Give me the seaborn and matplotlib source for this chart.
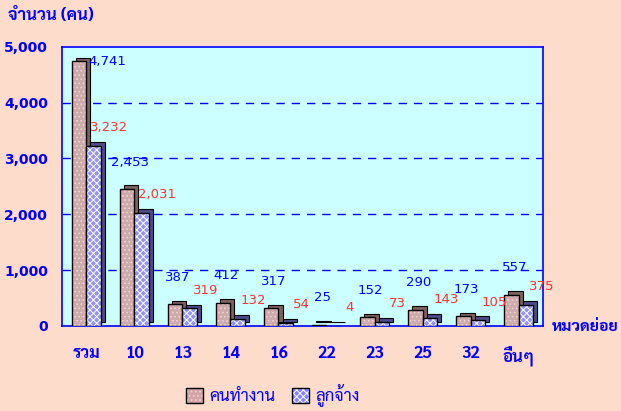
import matplotlib
matplotlib.use('Agg')
import matplotlib.pyplot as plt
import matplotlib.patheffects as pe
from matplotlib import font_manager
from matplotlib.colors import to_rgba
from matplotlib.patches import Patch
from matplotlib.ticker import FuncFormatter, FixedLocator
import seaborn as sns
import pandas as pd

categories = ['รวม', '10', '13', '14', '16', '22', '23', '25', '32', 'อื่นๆ']
workers = [4741, 2453, 387, 412, 317, 25, 152, 290, 173, 557]
employees = [3232, 2031, 319, 132, 54, 4, 73, 143, 105, 375]
series_names = ['คนทำงาน', 'ลูกจ้าง']

df = pd.DataFrame({
    'cat': categories * 2,
    'value': workers + employees,
    'series': [series_names[0]] * len(categories) + [series_names[1]] * len(categories),
})

# pick a font that has Thai glyphs
names = {f.name for f in font_manager.fontManager.ttflist}
thai = next((n for n in ['Sarabun', 'Noto Sans Thai Looped', 'Noto Sans Thai', 'Kanit', 'Prompt', 'Mitr', 'Trirong']
             if n in names), 'DejaVu Sans')

sns.set_theme(style='white')
plt.rcParams['font.family'] = [thai, 'DejaVu Sans']
plt.rcParams['hatch.linewidth'] = 0.7

BLUE = '#0000FF'
RED = '#FF3333'
bg = '#FDDCCB'
PINK = '#D4A4A4'
LBLUE = '#8484FF'
hatches = ['....', 'xxxxx']
hatch_cols = ['#EED4D4', '#FFFFFF']
side_cols = ['#7d6262', '#4c4c8c']


def style_patch(p, i):
    p.set_hatch(hatches[i])
    if hasattr(p, 'set_hatchcolor'):
        p.set_hatchcolor(hatch_cols[i])
    else:
        p._hatch_color = to_rgba(hatch_cols[i])


class PlainShadow(pe.SimplePatchShadow):
    # fake 3d depth: solid offset shadow, no hatch on it
    def draw_path(self, renderer, gc, tpath, affine, rgbFace):
        gc0 = renderer.new_gc()
        gc0.copy_properties(gc)
        gc0.set_hatch(None)
        gc0.set_linewidth(0.8)
        gc0.set_foreground('black')
        renderer.draw_path(gc0, tpath, affine + self._offset_transform(renderer),
                           self._shadow_rgbFace)
        gc0.restore()


fig = plt.figure(figsize=(6.21, 4.11), dpi=100, facecolor=bg)
ax = fig.add_axes([0.1, 0.207, 0.774, 0.679])
ax.set_facecolor('#CCFFFF')

sns.barplot(data=df, x='cat', y='value', hue='series', order=categories, hue_order=series_names,
            palette=[PINK, LBLUE], width=0.6, edgecolor='black', linewidth=1.0,
            ax=ax, legend=False, zorder=3)

for i, cont in enumerate(ax.containers):
    shadow = [PlainShadow(offset=(3.0, 2.6), shadow_rgbFace=side_cols[i], alpha=1), pe.Normal()]
    for p in cont:
        style_patch(p, i)
        p.set_path_effects(shadow)

ax.set_ylim(0, 5000)
ax.set_xlim(-0.5, len(categories) - 0.5)

for y in [1000, 2000, 3000, 4000]:
    ax.axhline(y, color=BLUE, ls=(0, (6, 5)), lw=1, zorder=1)

# data labels
for i, cont in enumerate(ax.containers):
    col = BLUE if i == 0 else RED
    for p, v in zip(cont, cont.datavalues):
        cx = p.get_x() + p.get_width() / 2
        top = p.get_height()
        if i == 0:
            off = (3, 27)
            if top > 4500:
                off = (28, 0)
        else:
            off = (16, 18)
        ax.annotate(f'{int(v):,}', (cx, top), xytext=off, textcoords='offset pixels',
                    ha='center', va='center', color=col, fontsize=9.5, zorder=5,
                    family=['DejaVu Sans'])

for s in ax.spines.values():
    s.set_color(BLUE)
    s.set_linewidth(1.2)

ax.yaxis.set_major_formatter(FuncFormatter(lambda v, _: f'{int(v):,}'))
ax.set_yticks(range(0, 5001, 1000))
ax.tick_params(axis='y', colors=BLUE, length=7, width=1.2, direction='out', labelsize=10, pad=3)
ax.tick_params(axis='x', which='major', length=0, pad=14, labelcolor=BLUE, labelsize=12)
ax.xaxis.set_minor_locator(FixedLocator([k - 0.5 for k in range(len(categories) + 1)]))
ax.tick_params(axis='x', which='minor', length=6, width=1.2, color=BLUE, direction='out')
for t in ax.get_yticklabels():
    t.set_fontweight('bold')
    t.set_family(['DejaVu Sans'])
for t in ax.get_xticklabels():
    t.set_fontweight('bold')

ax.set_xlabel('')
ax.set_ylabel('')

fig.text(0.013, 0.963, 'จำนวน (คน)', color=BLUE, fontsize=12, fontweight='bold', va='center')
fig.text(0.888, 0.205, 'หมวดย่อย', color=BLUE, fontsize=11.5, fontweight='bold', va='center')

handles = [Patch(facecolor=PINK, edgecolor='black'), Patch(facecolor=LBLUE, edgecolor='black')]
for i, h in enumerate(handles):
    style_patch(h, i)
leg = fig.legend(handles, series_names, loc='center', bbox_to_anchor=(0.44, 0.037), ncol=2,
                 frameon=False, fontsize=12, handlelength=1.0, handleheight=1.0,
                 handletextpad=0.4, columnspacing=1.0)
for t in leg.get_texts():
    t.set_color(BLUE)

fig.savefig('out.png', dpi=100, facecolor=bg)
